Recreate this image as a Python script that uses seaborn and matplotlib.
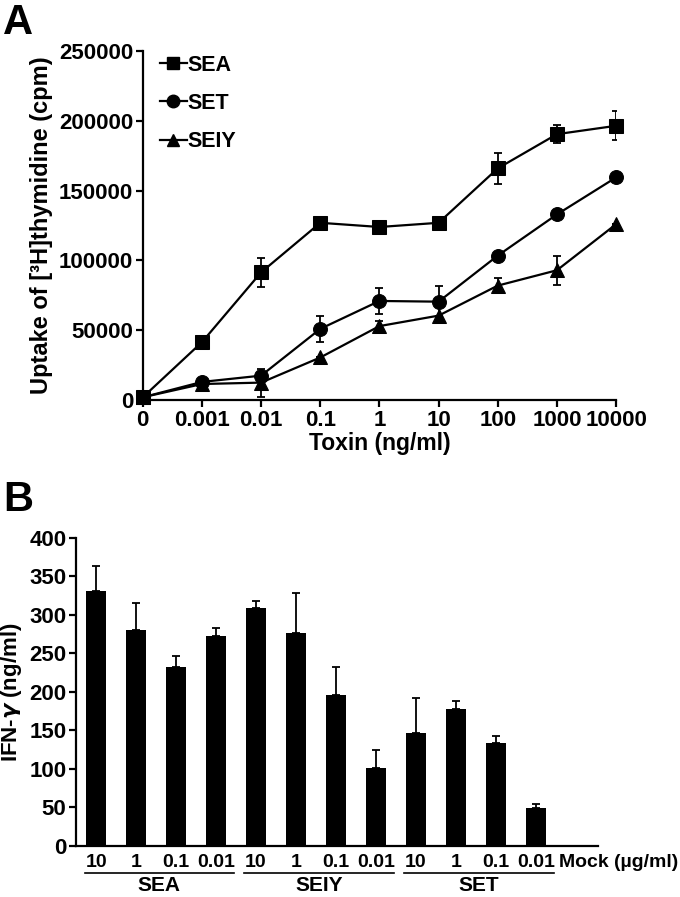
import numpy as np
import pandas as pd
import matplotlib
matplotlib.use("Agg")
import matplotlib.pyplot as plt
import seaborn as sns
from matplotlib.lines import Line2D

# ---------------- data ----------------
doses = ["0", "0.001", "0.01", "0.1", "1", "10", "100", "1000", "10000"]
sea_mean = [2000, 41500, 91500, 127000, 124000, 127000, 166000, 190500, 196500]
sea_err = [0, 0, 10500, 0, 3000, 3000, 11000, 6500, 10500]
set_mean = [2000, 13000, 17500, 51000, 71000, 70500, 103500, 133000, 159500]
set_err = [0, 0, 0, 9500, 9000, 11000, 0, 0, 0]
seiy_mean = [2000, 11500, 12500, 30500, 53000, 60500, 82000, 93000, 126000]
seiy_err = [0, 0, 10000, 0, 3500, 0, 5500, 10500, 0]

bar_doses = ["10", "1", "0.1", "0.01", "10", "1", "0.1", "0.01", "10", "1", "0.1", "0.01", "Mock"]
bar_groups = ["SEA"] * 4 + ["SEIY"] * 4 + ["SET"] * 4 + ["Mock"]
ifn_mean = [331, 281, 232, 273, 309, 276, 196, 101, 147, 178, 134, 49, 0]
ifn_err = [32, 35, 15, 10, 9, 53, 36, 24, 45, 10, 9, 5, 0]

plt.rcParams['font.family'] = ['Liberation Sans', 'DejaVu Sans']
plt.rcParams['font.weight'] = 'bold'
plt.rcParams['axes.labelweight'] = 'bold'

fig = plt.figure(figsize=(6.8, 8.97), dpi=100)

# ---------------- panel A ----------------
axA = fig.add_axes([0.210, 0.554, 0.696, 0.389])
series = [("SEA", sea_mean, sea_err, "s"),
          ("SET", set_mean, set_err, "o"),
          ("SEIY", seiy_mean, seiy_err, "^")]
rows = []
for name, mean, err, mk in series:
    for d, m in zip(doses, mean):
        rows.append({"dose": d, "cpm": m, "toxin": name})
dfA = pd.DataFrame(rows)

sns.lineplot(data=dfA, x="dose", y="cpm", style="toxin", markers=["s", "o", "^"],
             dashes=False, color="black", linewidth=1.6, markersize=10,
             markeredgecolor="black", sort=False, legend=False, ax=axA, clip_on=False, zorder=3)
xpos = np.arange(len(doses))
for name, mean, err, mk in series:
    axA.errorbar(xpos, mean, yerr=err, fmt="none", ecolor="black", elinewidth=1.3,
                 capsize=3, capthick=1.3, zorder=2)

axA.set_xlim(0, 8)
axA.set_ylim(0, 250000)
axA.set_yticks(np.arange(0, 250001, 50000))
axA.set_xticks(xpos)
axA.set_xticklabels(doses)
for s in ["top", "right"]:
    axA.spines[s].set_visible(False)
for s in ["left", "bottom"]:
    axA.spines[s].set_linewidth(1.6)
axA.tick_params(width=1.6, length=5, labelsize=16, direction="out", pad=2)
axA.set_xlabel("Toxin (ng/ml)", fontsize=16.5, labelpad=1)
axA.set_ylabel("Uptake of [\u00b3H]thymidine (cpm)", fontsize=17, labelpad=4)

handles = [Line2D([], [], color="black", marker=mk, markersize=9, linewidth=1.6)
           for _, _, _, mk in series]
axA.legend(handles, [s[0] for s in series], loc="upper left", bbox_to_anchor=(-0.005, 1.045),
           frameon=False, handlelength=1.25, handletextpad=0.05,
           labelspacing=0.8, prop={"weight": "bold", "size": 15.5})

fig.text(0.005, 0.997, "A", fontsize=30, fontweight="bold", va="top", ha="left")

# ---------------- panel B ----------------
axB = fig.add_axes([0.112, 0.0569, 0.767, 0.3434])
dfB = pd.DataFrame({"pos": np.arange(len(bar_doses)), "ifn": ifn_mean})
sns.barplot(data=dfB, x="pos", y="ifn", color="black", saturation=1, width=0.5,
            errorbar=None, ax=axB, zorder=3)
bpos = np.arange(len(bar_doses))
axB.errorbar(bpos, ifn_mean, yerr=[np.zeros(len(ifn_err)), ifn_err], fmt="none",
             ecolor="black", elinewidth=1.3, capsize=3, capthick=1.3, zorder=2)

axB.set_xlim(-0.5, 12.55)
axB.set_ylim(0, 400)
axB.set_yticks(np.arange(0, 401, 50))
axB.set_xticks(bpos[:-1])
axB.set_xticklabels(bar_doses[:-1])
axB.set_xlabel("")
for s in ["top", "right"]:
    axB.spines[s].set_visible(False)
for s in ["left", "bottom"]:
    axB.spines[s].set_linewidth(1.6)
axB.tick_params(axis="y", width=1.6, length=5, labelsize=16, pad=2)
axB.tick_params(axis="x", length=0, labelsize=14, pad=6)
axB.set_ylabel("IFN-$\\gamma$ (ng/ml)", fontsize=16, labelpad=4)
axB.text(11.58, -0.027, "Mock (\u00b5g/ml)", transform=axB.get_xaxis_transform(),
         ha="left", va="top", fontsize=14, fontweight="bold")

# group underlines and names
for gi, g in enumerate(["SEA", "SEIY", "SET"]):
    x0, x1 = gi * 4 - 0.29, gi * 4 + 3.45
    axB.plot([x0, x1], [-0.088, -0.088], color="black", linewidth=1.2,
             transform=axB.get_xaxis_transform(), clip_on=False)
    axB.text((x0 + x1) / 2, -0.099, g, transform=axB.get_xaxis_transform(),
             ha="center", va="top", fontsize=15, fontweight="bold")

fig.text(0.005, 0.465, "B", fontsize=30, fontweight="bold", va="top", ha="left")

fig.savefig("out.png", dpi=100)
